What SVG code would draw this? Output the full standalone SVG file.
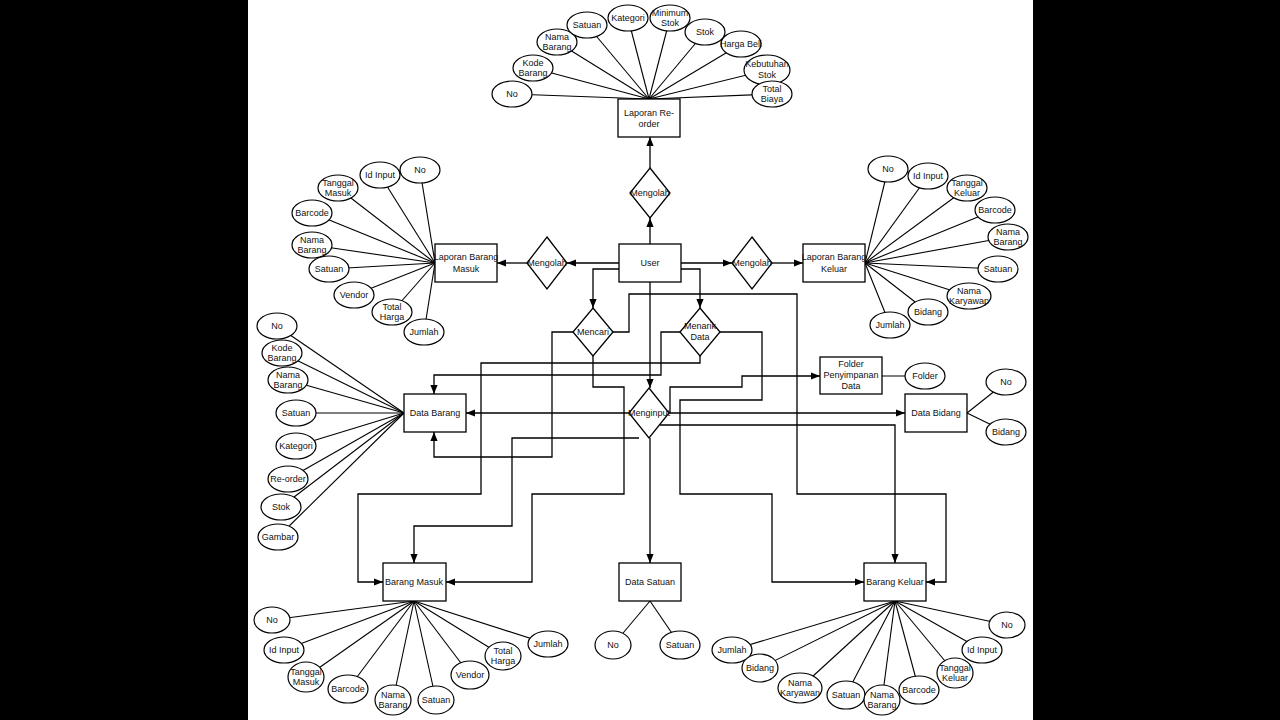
<svg xmlns="http://www.w3.org/2000/svg" width="1280" height="720" viewBox="0 0 1280 720">
<defs>
<marker id="ar" viewBox="0 0 10 10" refX="10" refY="5" markerWidth="7" markerHeight="7" orient="auto-start-reverse"><path d="M0,1 L10,5 L0,9 Z" fill="#000"/></marker>
<style>
.e{fill:#fff;stroke:#000;stroke-width:1.2}
.r{fill:#fff;stroke:#000;stroke-width:1.3}
.c{fill:none;stroke:#000;stroke-width:1.3}
.a{fill:none;stroke:#000;stroke-width:1.3;marker-end:url(#ar)}
.s{stroke:#000;stroke-width:1.1}
text{font-family:"Liberation Sans",Arial,sans-serif;font-size:9px;fill:#111;text-anchor:middle;dominant-baseline:central}
</style>
</defs>
<rect width="1280" height="720" fill="#000"/>
<rect x="248" y="0" width="785" height="720" fill="#fff"/>

<g id="spokes">
<line class="s" x1="512" y1="94" x2="649" y2="99"/><line class="s" x1="533" y1="68" x2="649" y2="99"/><line class="s" x1="557" y1="42" x2="649" y2="99"/><line class="s" x1="587" y1="25" x2="649" y2="99"/><line class="s" x1="628" y1="18" x2="649" y2="99"/><line class="s" x1="670" y1="18" x2="649" y2="99"/><line class="s" x1="705" y1="32" x2="649" y2="99"/><line class="s" x1="741" y1="44" x2="649" y2="99"/><line class="s" x1="767" y1="70" x2="649" y2="99"/><line class="s" x1="772" y1="94" x2="649" y2="99"/>
<line class="s" x1="420" y1="170" x2="435" y2="263"/><line class="s" x1="380" y1="175" x2="435" y2="263"/><line class="s" x1="338" y1="188" x2="435" y2="263"/><line class="s" x1="312" y1="213" x2="435" y2="263"/><line class="s" x1="312" y1="245" x2="435" y2="263"/><line class="s" x1="329" y1="269" x2="435" y2="263"/><line class="s" x1="354" y1="295" x2="435" y2="263"/><line class="s" x1="392" y1="312" x2="435" y2="263"/><line class="s" x1="424" y1="332" x2="435" y2="263"/>
<line class="s" x1="888" y1="169" x2="865" y2="263"/><line class="s" x1="928" y1="176" x2="865" y2="263"/><line class="s" x1="967" y1="188" x2="865" y2="263"/><line class="s" x1="995" y1="210" x2="865" y2="263"/><line class="s" x1="1008" y1="237" x2="865" y2="263"/><line class="s" x1="998" y1="269" x2="865" y2="263"/><line class="s" x1="969" y1="296" x2="865" y2="263"/><line class="s" x1="928" y1="312" x2="865" y2="263"/><line class="s" x1="890" y1="325" x2="865" y2="263"/>
<line class="s" x1="277" y1="326" x2="404" y2="413"/><line class="s" x1="282" y1="353" x2="404" y2="413"/><line class="s" x1="288" y1="380" x2="404" y2="413"/><line class="s" x1="296" y1="413" x2="404" y2="413"/><line class="s" x1="296" y1="446" x2="404" y2="413"/><line class="s" x1="288" y1="479" x2="404" y2="413"/><line class="s" x1="281" y1="507" x2="404" y2="413"/><line class="s" x1="278" y1="537" x2="404" y2="413"/>
<line class="s" x1="272" y1="620" x2="414" y2="601"/><line class="s" x1="284" y1="650" x2="414" y2="601"/><line class="s" x1="306" y1="677" x2="414" y2="601"/><line class="s" x1="348" y1="689" x2="414" y2="601"/><line class="s" x1="393" y1="700" x2="414" y2="601"/><line class="s" x1="436" y1="700" x2="414" y2="601"/><line class="s" x1="470" y1="675" x2="414" y2="601"/><line class="s" x1="503" y1="656" x2="414" y2="601"/><line class="s" x1="548" y1="644" x2="414" y2="601"/>
<line class="s" x1="613" y1="645" x2="650" y2="601"/><line class="s" x1="680" y1="645" x2="650" y2="601"/>
<line class="s" x1="732" y1="650" x2="895" y2="601"/><line class="s" x1="760" y1="668" x2="895" y2="601"/><line class="s" x1="800" y1="688" x2="895" y2="601"/><line class="s" x1="846" y1="695" x2="895" y2="601"/><line class="s" x1="882" y1="700" x2="895" y2="601"/><line class="s" x1="919" y1="690" x2="895" y2="601"/><line class="s" x1="955" y1="673" x2="895" y2="601"/><line class="s" x1="982" y1="650" x2="895" y2="601"/><line class="s" x1="1007" y1="625" x2="895" y2="601"/>
<line class="s" x1="1006" y1="382" x2="967" y2="413"/><line class="s" x1="1006" y1="432" x2="967" y2="413"/>
<line class="s" x1="925" y1="376" x2="882" y2="376"/>
</g>

<g id="connectors">
<path class="a" d="M619,263 H567"/><path class="a" d="M527,263 H497"/>
<path class="a" d="M681,263 H732"/><path class="a" d="M772,263 H803"/>
<path class="a" d="M650,244 V218"/><path class="a" d="M650,168 V137"/>
<path class="a" d="M619,269 H593 V308"/>
<path class="a" d="M681,269 H700 V308"/>
<path class="a" d="M650,282 V388"/>
<path class="a" d="M629,413 H466"/>
<path class="a" d="M669,413 H905"/>
<path class="a" d="M650,438 V563"/>
<path class="a" d="M660,425 H895 V563"/>
<path class="a" d="M613,332 H629 V294 H797 V494 H946 V582 H926"/>
<path class="a" d="M573,332 H552 V457 H434 V432"/>
<path class="a" d="M593,356 V387 H624 V494 H532 V582 H446"/>
<path class="a" d="M700,356 V363 H481 V494 H358 V582 H383"/>
<path class="a" d="M680,332 H661 V375 H434 V394"/>
<path class="a" d="M720,332 H762 V400 H680 V494 H772 V582 H864"/>
<path class="a" d="M639,438 H512 V526 H414 V563"/>
<path class="a" d="M670,413 V387 H742 V376 H820"/>
</g>

<g id="user"><rect class="r" x="619" y="244" width="62" height="38"/><text x="650" y="263">User</text></g>
<g id="lap-reorder"><rect class="r" x="618" y="99" width="62" height="38"/><text x="649" y="113">Laporan Re-</text><text x="649" y="124">order</text></g>
<g id="lap-masuk"><rect class="r" x="435" y="244" width="62" height="38"/><text x="466" y="257">Laporan Barang</text><text x="466" y="269">Masuk</text></g>
<g id="lap-keluar"><rect class="r" x="803" y="244" width="62" height="38"/><text x="834" y="257">Laporan Barang</text><text x="834" y="269">Keluar</text></g>
<g id="data-barang"><rect class="r" x="404" y="394" width="62" height="38"/><text x="435" y="413">Data Barang</text></g>
<g id="data-bidang"><rect class="r" x="905" y="394" width="62" height="38"/><text x="936" y="413">Data Bidang</text></g>
<g id="folder-penyimpanan"><rect class="r" x="820" y="357" width="62" height="37"/><text x="851" y="364">Folder</text><text x="851" y="375">Penyimpanan</text><text x="851" y="386">Data</text></g>
<g id="barang-masuk"><rect class="r" x="383" y="563" width="63" height="38"/><text x="414" y="582">Barang Masuk</text></g>
<g id="data-satuan"><rect class="r" x="619" y="563" width="62" height="38"/><text x="650" y="582">Data Satuan</text></g>
<g id="barang-keluar"><rect class="r" x="864" y="563" width="62" height="38"/><text x="895" y="582">Barang Keluar</text></g>

<g id="mengolah-top"><polygon class="r" points="650,168 670,193 650,218 630,193"/><text x="650" y="193">Mengolah</text></g>
<g id="mengolah-left"><polygon class="r" points="547,237 567,263 547,289 527,263"/><text x="547" y="263">Mengolah</text></g>
<g id="mengolah-right"><polygon class="r" points="752,237 772,263 752,289 732,263"/><text x="752" y="263">Mengolah</text></g>
<g id="mencari"><polygon class="r" points="593,308 613,332 593,356 573,332"/><text x="593" y="332">Mencari</text></g>
<g id="menarik"><polygon class="r" points="700,308 720,332 700,356 680,332"/><text x="700" y="326">Menarik</text><text x="700" y="337">Data</text></g>
<g id="menginput"><polygon class="r" points="649,388 669,413 649,438 629,413"/><text x="649" y="413">Menginput</text></g>

<g id="attrs-reorder">
<g id="rr1"><ellipse class="e" cx="512" cy="94" rx="20" ry="13"/><text x="512" y="94">No</text></g>
<g id="rr2"><ellipse class="e" cx="533" cy="68" rx="20" ry="13"/><text x="533" y="63">Kode</text><text x="533" y="73">Barang</text></g>
<g id="rr3"><ellipse class="e" cx="557" cy="42" rx="20" ry="13"/><text x="557" y="37">Nama</text><text x="557" y="47">Barang</text></g>
<g id="rr4"><ellipse class="e" cx="587" cy="25" rx="20" ry="13"/><text x="587" y="25">Satuan</text></g>
<g id="rr5"><ellipse class="e" cx="628" cy="18" rx="20" ry="13"/><text x="628" y="18">Kategori</text></g>
<g id="rr6"><ellipse class="e" cx="670" cy="18" rx="20" ry="13"/><text x="670" y="13">Minimum</text><text x="670" y="23">Stok</text></g>
<g id="rr7"><ellipse class="e" cx="705" cy="32" rx="20" ry="13"/><text x="705" y="32">Stok</text></g>
<g id="rr8"><ellipse class="e" cx="741" cy="44" rx="20" ry="13"/><text x="741" y="44">Harga Beli</text></g>
<g id="rr9"><ellipse class="e" cx="767" cy="70" rx="23" ry="15"/><text x="767" y="64">Kebutuhan</text><text x="767" y="75">Stok</text></g>
<g id="rr10"><ellipse class="e" cx="772" cy="94" rx="20" ry="13"/><text x="772" y="89">Total</text><text x="772" y="99">Biaya</text></g>
</g>

<g id="attrs-lapmasuk">
<g id="lm1"><ellipse class="e" cx="420" cy="170" rx="20" ry="13"/><text x="420" y="170">No</text></g>
<g id="lm2"><ellipse class="e" cx="380" cy="175" rx="20" ry="13"/><text x="380" y="175">Id Input</text></g>
<g id="lm3"><ellipse class="e" cx="338" cy="188" rx="20" ry="13"/><text x="338" y="183">Tanggal</text><text x="338" y="193">Masuk</text></g>
<g id="lm4"><ellipse class="e" cx="312" cy="213" rx="20" ry="13"/><text x="312" y="213">Barcode</text></g>
<g id="lm5"><ellipse class="e" cx="312" cy="245" rx="20" ry="13"/><text x="312" y="240">Nama</text><text x="312" y="250">Barang</text></g>
<g id="lm6"><ellipse class="e" cx="329" cy="269" rx="20" ry="13"/><text x="329" y="269">Satuan</text></g>
<g id="lm7"><ellipse class="e" cx="354" cy="295" rx="20" ry="13"/><text x="354" y="295">Vendor</text></g>
<g id="lm8"><ellipse class="e" cx="392" cy="312" rx="20" ry="13"/><text x="392" y="307">Total</text><text x="392" y="317">Harga</text></g>
<g id="lm9"><ellipse class="e" cx="424" cy="332" rx="20" ry="13"/><text x="424" y="332">Jumlah</text></g>
</g>

<g id="attrs-lapkeluar">
<g id="lk1"><ellipse class="e" cx="888" cy="169" rx="20" ry="13"/><text x="888" y="169">No</text></g>
<g id="lk2"><ellipse class="e" cx="928" cy="176" rx="20" ry="13"/><text x="928" y="176">Id Input</text></g>
<g id="lk3"><ellipse class="e" cx="967" cy="188" rx="20" ry="13"/><text x="967" y="183">Tanggal</text><text x="967" y="193">Keluar</text></g>
<g id="lk4"><ellipse class="e" cx="995" cy="210" rx="20" ry="13"/><text x="995" y="210">Barcode</text></g>
<g id="lk5"><ellipse class="e" cx="1008" cy="237" rx="20" ry="13"/><text x="1008" y="232">Nama</text><text x="1008" y="242">Barang</text></g>
<g id="lk6"><ellipse class="e" cx="998" cy="269" rx="20" ry="13"/><text x="998" y="269">Satuan</text></g>
<g id="lk7"><ellipse class="e" cx="969" cy="296" rx="22" ry="13"/><text x="969" y="291">Nama</text><text x="969" y="301">Karyawap</text></g>
<g id="lk8"><ellipse class="e" cx="928" cy="312" rx="20" ry="13"/><text x="928" y="312">Bidang</text></g>
<g id="lk9"><ellipse class="e" cx="890" cy="325" rx="20" ry="13"/><text x="890" y="325">Jumlah</text></g>
</g>

<g id="attrs-databarang">
<g id="db1"><ellipse class="e" cx="277" cy="326" rx="20" ry="13"/><text x="277" y="326">No</text></g>
<g id="db2"><ellipse class="e" cx="282" cy="353" rx="20" ry="13"/><text x="282" y="348">Kode</text><text x="282" y="358">Barang</text></g>
<g id="db3"><ellipse class="e" cx="288" cy="380" rx="20" ry="13"/><text x="288" y="375">Nama</text><text x="288" y="385">Barang</text></g>
<g id="db4"><ellipse class="e" cx="296" cy="413" rx="20" ry="13"/><text x="296" y="413">Satuan</text></g>
<g id="db5"><ellipse class="e" cx="296" cy="446" rx="20" ry="13"/><text x="296" y="446">Kategori</text></g>
<g id="db6"><ellipse class="e" cx="288" cy="479" rx="20" ry="13"/><text x="288" y="479">Re-order</text></g>
<g id="db7"><ellipse class="e" cx="281" cy="507" rx="20" ry="13"/><text x="281" y="507">Stok</text></g>
<g id="db8"><ellipse class="e" cx="278" cy="537" rx="20" ry="13"/><text x="278" y="537">Gambar</text></g>
</g>

<g id="attrs-bidang-folder">
<g id="bd1"><ellipse class="e" cx="1006" cy="382" rx="20" ry="13"/><text x="1006" y="382">No</text></g>
<g id="bd2"><ellipse class="e" cx="1006" cy="432" rx="20" ry="13"/><text x="1006" y="432">Bidang</text></g>
<g id="fd1"><ellipse class="e" cx="925" cy="376" rx="20" ry="13"/><text x="925" y="376">Folder</text></g>
</g>

<g id="attrs-barangmasuk">
<g id="bm1"><ellipse class="e" cx="272" cy="620" rx="18" ry="13"/><text x="272" y="620">No</text></g>
<g id="bm2"><ellipse class="e" cx="284" cy="650" rx="20" ry="13"/><text x="284" y="650">Id Input</text></g>
<g id="bm3"><ellipse class="e" cx="306" cy="677" rx="18" ry="15"/><text x="306" y="672">Tanggal</text><text x="306" y="682">Masuk</text></g>
<g id="bm4"><ellipse class="e" cx="348" cy="689" rx="20" ry="14"/><text x="348" y="689">Barcode</text></g>
<g id="bm5"><ellipse class="e" cx="393" cy="700" rx="18" ry="15"/><text x="393" y="695">Nama</text><text x="393" y="705">Barang</text></g>
<g id="bm6"><ellipse class="e" cx="436" cy="700" rx="18" ry="14"/><text x="436" y="700">Satuan</text></g>
<g id="bm7"><ellipse class="e" cx="470" cy="675" rx="19" ry="14"/><text x="470" y="675">Vendor</text></g>
<g id="bm8"><ellipse class="e" cx="503" cy="656" rx="18" ry="14"/><text x="503" y="651">Total</text><text x="503" y="661">Harga</text></g>
<g id="bm9"><ellipse class="e" cx="548" cy="644" rx="20" ry="13"/><text x="548" y="644">Jumlah</text></g>
</g>

<g id="attrs-satuan">
<g id="ds1"><ellipse class="e" cx="613" cy="645" rx="18" ry="14"/><text x="613" y="645">No</text></g>
<g id="ds2"><ellipse class="e" cx="680" cy="645" rx="20" ry="14"/><text x="680" y="645">Satuan</text></g>
</g>

<g id="attrs-barangkeluar">
<g id="bk1"><ellipse class="e" cx="732" cy="650" rx="20" ry="13"/><text x="732" y="650">Jumlah</text></g>
<g id="bk2"><ellipse class="e" cx="760" cy="668" rx="18" ry="14"/><text x="760" y="668">Bidang</text></g>
<g id="bk3"><ellipse class="e" cx="800" cy="688" rx="22" ry="15"/><text x="800" y="683">Nama</text><text x="800" y="693">Karyawan</text></g>
<g id="bk4"><ellipse class="e" cx="846" cy="695" rx="19" ry="14"/><text x="846" y="695">Satuan</text></g>
<g id="bk5"><ellipse class="e" cx="882" cy="700" rx="18" ry="15"/><text x="882" y="695">Nama</text><text x="882" y="705">Barang</text></g>
<g id="bk6"><ellipse class="e" cx="919" cy="690" rx="20" ry="14"/><text x="919" y="690">Barcode</text></g>
<g id="bk7"><ellipse class="e" cx="955" cy="673" rx="18" ry="15"/><text x="955" y="668">Tanggal</text><text x="955" y="678">Keluar</text></g>
<g id="bk8"><ellipse class="e" cx="982" cy="650" rx="20" ry="13"/><text x="982" y="650">Id Input</text></g>
<g id="bk9"><ellipse class="e" cx="1007" cy="625" rx="18" ry="13"/><text x="1007" y="625">No</text></g>
</g>
</svg>
